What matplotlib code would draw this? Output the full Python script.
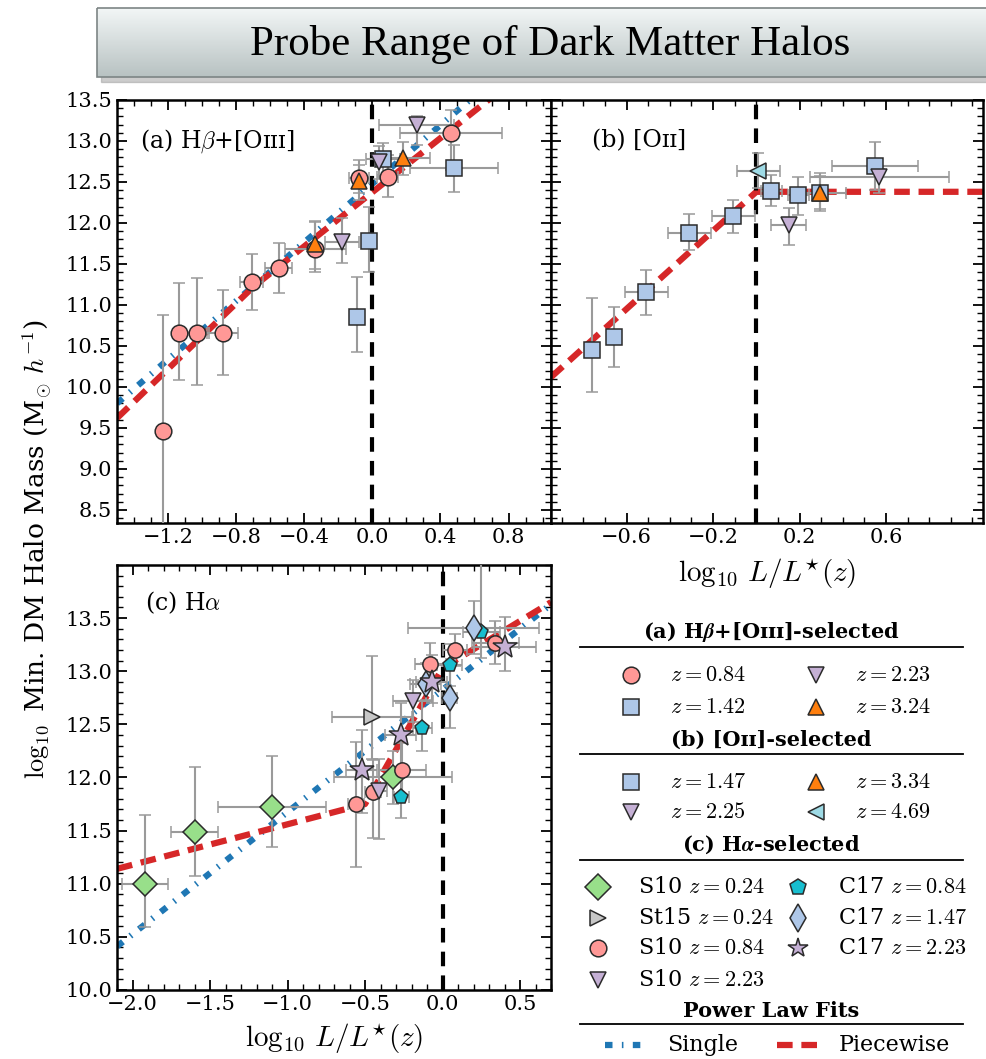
import numpy as np
import matplotlib.pyplot as plt
from matplotlib.ticker import MultipleLocator
from matplotlib.patches import Rectangle

plt.rcParams['font.family'] = ['DejaVu Serif']
plt.rcParams['mathtext.fontset'] = 'cm'

# =========================================
# Panel (a)  Hb+[OIII]
# =========================================
a_z084_x = [-1.23, -1.135, -1.03, -0.88, -0.71, -0.55, -0.335, -0.08, 0.09, 0.46]
a_z084_y = [9.46, 10.66, 10.66, 10.66, 11.28, 11.45, 11.68, 12.55, 12.56, 13.10]
a_z084_xe = [0.0, 0.0, 0.07, 0.09, 0.07, 0.08, 0.18, 0.06, 0.06, 0.30]
a_z084_lo = [1.30, 0.57, 0.64, 0.51, 0.34, 0.30, 0.28, 0.27, 0.24, 0.45]
a_z084_hi = [1.42, 0.61, 0.67, 0.52, 0.34, 0.31, 0.33, 0.22, 0.27, 0.28]

a_z142_x = [-0.09, -0.02, 0.06, 0.48]
a_z142_y = [10.85, 11.78, 12.78, 12.67]
a_z142_xe = [0.0, 0.0, 0.10, 0.26]
a_z142_lo = [0.42, 0.38, 0.20, 0.29]
a_z142_hi = [0.49, 0.41, 0.20, 0.28]

a_z223_x = [-0.18, 0.04, 0.26]
a_z223_y = [11.77, 12.74, 13.20]
a_z223_xe = [0.10, 0.0, 0.22]
a_z223_lo = [0.26, 0.20, 0.25]
a_z223_hi = [0.29, 0.20, 0.10]

a_z324_x = [-0.335, -0.08, 0.18]
a_z324_y = [11.74, 12.51, 12.79]
a_z324_xe = [0.0, 0.0, 0.16]
a_z324_lo = [0.30, 0.15, 0.20]
a_z324_hi = [0.28, 0.20, 0.20]

# power law fits
a_single_x = [-1.5, 0.6]
a_single_y = [9.80, 13.55]
a_piece_x = [-1.5, -0.7, 0.7]
a_piece_y = [9.62, 11.22, 13.53]

# =========================================
# Panel (b)  [OII]
# =========================================
b_z147_x = [-0.76, -0.66, -0.51, -0.31, -0.107, 0.07, 0.195, 0.295, 0.55]
b_z147_y = [10.45, 10.61, 11.16, 11.88, 12.09, 12.39, 12.34, 12.37, 12.70]
b_z147_xe = [0.03, 0.03, 0.10, 0.10, 0.10, 0.05, 0.05, 0.12, 0.20]
b_z147_lo = [0.51, 0.37, 0.28, 0.21, 0.21, 0.18, 0.24, 0.20, 0.30]
b_z147_hi = [0.64, 0.37, 0.27, 0.23, 0.19, 0.19, 0.22, 0.20, 0.29]

b_z225_x = [0.15, 0.57]
b_z225_y = [11.98, 12.56]
b_z225_xe = [0.08, 0.32]
b_z225_lo = [0.25, 0.20]
b_z225_hi = [0.20, 0.10]

b_z334_x = [0.295]
b_z334_y = [12.37]
b_z334_xe = [0.0]
b_z334_lo = [0.22]
b_z334_hi = [0.24]

b_z469_x = [0.01]
b_z469_y = [12.63]
b_z469_xe = [0.10]
b_z469_lo = [0.20]
b_z469_hi = [0.22]

b_piece_x = [-0.95, 0.0, 1.05]
b_piece_y = [10.12, 12.38, 12.38]

# =========================================
# Panel (c)  Ha
# =========================================
c_s10_024_x = [-1.92, -1.60, -1.10, -0.32]
c_s10_024_y = [11.00, 11.49, 11.72, 12.00]
c_s10_024_xe = [0.15, 0.15, 0.35, 0.38]
c_s10_024_lo = [0.41, 0.42, 0.37, 0.25]
c_s10_024_hi = [0.65, 0.61, 0.48, 0.25]

c_st15_x = [-0.455]
c_st15_y = [12.57]
c_st15_xe = [0.26]
c_st15_lo = [0.40]
c_st15_hi = [0.57]

c_s10_084_x = [-0.56, -0.45, -0.26, -0.08, 0.08, 0.34]
c_s10_084_y = [11.75, 11.86, 12.07, 13.07, 13.20, 13.27]
c_s10_084_xe = [0.05, 0.05, 0.15, 0.10, 0.08, 0.15]
c_s10_084_lo = [0.59, 0.43, 0.25, 0.20, 0.15, 0.20]
c_s10_084_hi = [0.58, 0.30, 0.25, 0.20, 0.15, 0.20]

c_s10_223_x = [-0.41, -0.19]
c_s10_223_y = [11.87, 12.72]
c_s10_223_xe = [0.05, 0.13]
c_s10_223_lo = [0.45, 0.20]
c_s10_223_hi = [0.30, 0.20]

c_c17_084_x = [-0.265, -0.13, 0.045, 0.25]
c_c17_084_y = [11.82, 12.47, 13.06, 13.37]
c_c17_084_xe = [0.05, 0.06, 0.08, 0.12]
c_c17_084_lo = [0.20, 0.22, 0.20, 0.25]
c_c17_084_hi = [0.20, 0.25, 0.20, 0.70]

c_c17_147_x = [-0.11, 0.045, 0.20]
c_c17_147_y = [12.88, 12.75, 13.41]
c_c17_147_xe = [0.10, 0.05, 0.42]
c_c17_147_lo = [0.15, 0.28, 0.25]
c_c17_147_hi = [0.20, 0.32, 0.25]

c_c17_223_x = [-0.52, -0.27, -0.07, 0.40]
c_c17_223_y = [12.07, 12.40, 12.90, 13.23]
c_c17_223_xe = [0.10, 0.10, 0.10, 0.20]
c_c17_223_lo = [0.40, 0.30, 0.20, 0.23]
c_c17_223_hi = [0.38, 0.30, 0.25, 0.28]

c_single_x = [-2.1, 0.7]
c_single_y = [10.41, 13.63]
c_piece_x = [-2.1, -0.5, 0.0, 0.7]
c_piece_y = [11.14, 11.75, 13.03, 13.65]

# =========================================
# Styles
# =========================================
PINK = '#ff9896'
LBLUE = '#aec7e8'
PURPLE = '#c5b0d5'
ORANGE = '#ff7f0e'
LCYAN = '#9edae5'
GREEN = '#98df8a'
GRAY = '#c7c7c7'
CYAN = '#17becf'
EDGE = '#2b2b2b'
ERR = '#9a9a9a'
BLUE_FIT = '#1f77b4'
RED_FIT = '#d62728'

single_kw = dict(color=BLUE_FIT, lw=4.5, dashes=(1.2, 1.5, 0.25, 1.5), zorder=2)
piece_kw = dict(color=RED_FIT, lw=4.5, dashes=(2.5, 1.4), zorder=2)


def series(ax, x, y, xe, lo, hi, marker, color, ms):
    ax.errorbar(x, y, xerr=xe, yerr=[lo, hi], fmt=marker, ms=ms, mfc=color,
                mec=EDGE, mew=1.1, ecolor=ERR, elinewidth=1.5, capsize=4,
                capthick=1.5, zorder=3)


def style(ax):
    ax.tick_params(which='both', direction='in', top=True, right=True,
                   labelsize=15)
    ax.tick_params(which='major', length=7, width=1.3)
    ax.tick_params(which='minor', length=4, width=1.0)
    for s in ax.spines.values():
        s.set_linewidth(1.8)
    ax.axvline(0.0, color='black', lw=3, dashes=(3.5, 2.2), zorder=2.5)


fig = plt.figure(figsize=(9.86, 10.59), dpi=100)

ax_a = fig.add_axes([0.1187, 0.5061, 0.4402, 0.3995])
ax_b = fig.add_axes([0.5589, 0.5061, 0.4382, 0.3995])
ax_c = fig.add_axes([0.1187, 0.0652, 0.4402, 0.4013])

# ----- panel a
series(ax_a, a_z084_x, a_z084_y, a_z084_xe, a_z084_lo, a_z084_hi, 'o', PINK, 12)
series(ax_a, a_z142_x, a_z142_y, a_z142_xe, a_z142_lo, a_z142_hi, 's', LBLUE, 11)
series(ax_a, a_z223_x, a_z223_y, a_z223_xe, a_z223_lo, a_z223_hi, 'v', PURPLE, 12)
series(ax_a, a_z324_x, a_z324_y, a_z324_xe, a_z324_lo, a_z324_hi, '^', ORANGE, 12)
ax_a.plot(a_single_x, a_single_y, **single_kw)
ax_a.plot(a_piece_x, a_piece_y, **piece_kw)
ax_a.set_xlim(-1.5, 1.05)
ax_a.set_ylim(8.34, 13.5)
ax_a.xaxis.set_major_locator(MultipleLocator(0.4))
ax_a.xaxis.set_minor_locator(MultipleLocator(0.1))
ax_a.yaxis.set_major_locator(MultipleLocator(0.5))
ax_a.yaxis.set_minor_locator(MultipleLocator(0.1))
style(ax_a)
ax_a.text(0.053, 0.903, r'(a) H$\beta$+[Oɪɪɪ]', transform=ax_a.transAxes,
          fontsize=17, va='center')

# ----- panel b
series(ax_b, b_z147_x, b_z147_y, b_z147_xe, b_z147_lo, b_z147_hi, 's', LBLUE, 11)
series(ax_b, b_z225_x, b_z225_y, b_z225_xe, b_z225_lo, b_z225_hi, 'v', PURPLE, 12)
series(ax_b, b_z334_x, b_z334_y, b_z334_xe, b_z334_lo, b_z334_hi, '^', ORANGE, 12)
series(ax_b, b_z469_x, b_z469_y, b_z469_xe, b_z469_lo, b_z469_hi, '<', LCYAN, 12)
ax_b.plot(b_piece_x, b_piece_y, **piece_kw)
ax_b.set_xlim(-0.95, 1.05)
ax_b.set_ylim(8.34, 13.5)
ax_b.set_xticks([-0.6, -0.2, 0.2, 0.6])
ax_b.xaxis.set_minor_locator(MultipleLocator(0.1))
ax_b.yaxis.set_major_locator(MultipleLocator(0.5))
ax_b.yaxis.set_minor_locator(MultipleLocator(0.1))
style(ax_b)
ax_b.tick_params(labelleft=False)
ax_b.set_xlabel(r'$\log_{10}\,L/L^{\star}(z)$', fontsize=21, labelpad=7)
ax_b.text(0.095, 0.903, '(b) [Oɪɪ]', transform=ax_b.transAxes,
          fontsize=17, va='center')

# ----- panel c
series(ax_c, c_s10_024_x, c_s10_024_y, c_s10_024_xe, c_s10_024_lo, c_s10_024_hi, 'D', GREEN, 12)
series(ax_c, c_st15_x, c_st15_y, c_st15_xe, c_st15_lo, c_st15_hi, '>', GRAY, 12)
series(ax_c, c_s10_084_x, c_s10_084_y, c_s10_084_xe, c_s10_084_lo, c_s10_084_hi, 'o', PINK, 11)
series(ax_c, c_s10_223_x, c_s10_223_y, c_s10_223_xe, c_s10_223_lo, c_s10_223_hi, 'v', PURPLE, 11)
series(ax_c, c_c17_084_x, c_c17_084_y, c_c17_084_xe, c_c17_084_lo, c_c17_084_hi, 'p', CYAN, 11)
series(ax_c, c_c17_147_x, c_c17_147_y, c_c17_147_xe, c_c17_147_lo, c_c17_147_hi, 'd', LBLUE, 13)
series(ax_c, c_c17_223_x, c_c17_223_y, c_c17_223_xe, c_c17_223_lo, c_c17_223_hi, '*', PURPLE, 18)
ax_c.plot(c_single_x, c_single_y, **single_kw)
ax_c.plot(c_piece_x, c_piece_y, **piece_kw)
ax_c.set_xlim(-2.1, 0.7)
ax_c.set_ylim(10.0, 14.0)
ax_c.xaxis.set_major_locator(MultipleLocator(0.5))
ax_c.xaxis.set_minor_locator(MultipleLocator(0.1))
ax_c.set_yticks(np.arange(10.0, 13.6, 0.5))
ax_c.yaxis.set_minor_locator(MultipleLocator(0.1))
style(ax_c)
ax_c.set_xlabel(r'$\log_{10}\,L/L^{\star}(z)$', fontsize=21, labelpad=5)
ax_c.text(0.065, 0.911, r'(c) H$\alpha$', transform=ax_c.transAxes,
          fontsize=17, va='center')

fig.text(0.038, 0.481, r'$\log_{10}$ Min. DM Halo Mass (M$_{\odot}$ $h^{-1}$)',
         rotation=90, fontsize=19, ha='center', va='center')

# =========================================
# Overlay: title box and legend (pixel coords)
# =========================================
ov = fig.add_axes([0, 0, 1, 1])
ov.set_xlim(0, 986)
ov.set_ylim(1059, 0)
ov.axis('off')
ov.patch.set_alpha(0)

ov.add_patch(Rectangle((101, 12), 900, 70, color='#9a9a9a', alpha=0.5, zorder=1))
grad = np.linspace(0, 1, 100)[:, None, None]
top = np.array([0.95, 0.965, 0.965])
bot = np.array([0.72, 0.76, 0.76])
img = top + (bot - top) * grad
ov.imshow(img, extent=(97, 995, 77, 8), aspect='auto', zorder=2)
ov.add_patch(Rectangle((97, 8), 898, 69, fill=False, ec='#7d8585', lw=1.2, zorder=3))
ov.text(550, 44, 'Probe Range of Dark Matter Halos', family='Liberation Serif',
        fontsize=31, ha='center', va='center', zorder=4)
ov.set_xlim(0, 986)
ov.set_ylim(1059, 0)

leg_fs = 15
mk = dict(mec=EDGE, mew=1.1, ls='none')


def header(y, txt, yline):
    ov.text(771, y, txt, fontsize=leg_fs, fontweight='bold', ha='center', va='center')
    ov.plot([580, 963], [yline, yline], color='black', lw=1.3)


header(632, r'(a) H$\boldsymbol{\beta}$+[Oɪɪɪ]-selected', 647)
leg_a = [(631, 675, 'o', PINK, 12, r'$z = 0.84$'),
         (816, 675, 'v', PURPLE, 12, r'$z = 2.23$'),
         (631, 707, 's', LBLUE, 11, r'$z = 1.42$'),
         (816, 707, '^', ORANGE, 12, r'$z = 3.24$')]
header(740, '(b) [Oɪɪ]-selected', 754)
leg_b = [(631, 782, 's', LBLUE, 11, r'$z = 1.47$'),
         (816, 782, '^', ORANGE, 12, r'$z = 3.34$'),
         (631, 812, 'v', PURPLE, 12, r'$z = 2.25$'),
         (816, 812, '<', LCYAN, 12, r'$z = 4.69$')]
for mx, my, m, c, s, t in leg_a + leg_b:
    ov.plot([mx], [my], marker=m, mfc=c, ms=s, **mk)
    ov.text(mx + 39, my, t, fontsize=leg_fs + 1, va='center')

header(845, r'(c) H$\boldsymbol{\alpha}$-selected', 860)
leg_c = [(598, 887, 'D', GREEN, 13, r'S10 $z = 0.24$'),
         (798, 887, 'p', CYAN, 12, r'C17 $z = 0.84$'),
         (598, 918, '>', GRAY, 12, r'St15 $z = 0.24$'),
         (798, 918, 'd', LBLUE, 14, r'C17 $z = 1.47$'),
         (598, 948, 'o', PINK, 12, r'S10 $z = 0.84$'),
         (798, 948, '*', PURPLE, 15, r'C17 $z = 2.23$'),
         (598, 980, 'v', PURPLE, 12, r'S10 $z = 2.23$')]
for mx, my, m, c, s, t in leg_c:
    ov.plot([mx], [my], marker=m, mfc=c, ms=s, **mk)
    ov.text(mx + 40, my, t, fontsize=leg_fs + 1, va='center')

header(1011, 'Power Law Fits', 1024)
ov.plot([605, 645], [1045, 1045], **single_kw)
ov.text(667, 1045, 'Single', fontsize=leg_fs + 1, va='center')
ov.plot([777, 818], [1045, 1045], **piece_kw)
ov.text(839, 1045, 'Piecewise', fontsize=leg_fs + 1, va='center')
ov.set_xlim(0, 986)
ov.set_ylim(1059, 0)

fig.savefig('out.png', dpi=100)
